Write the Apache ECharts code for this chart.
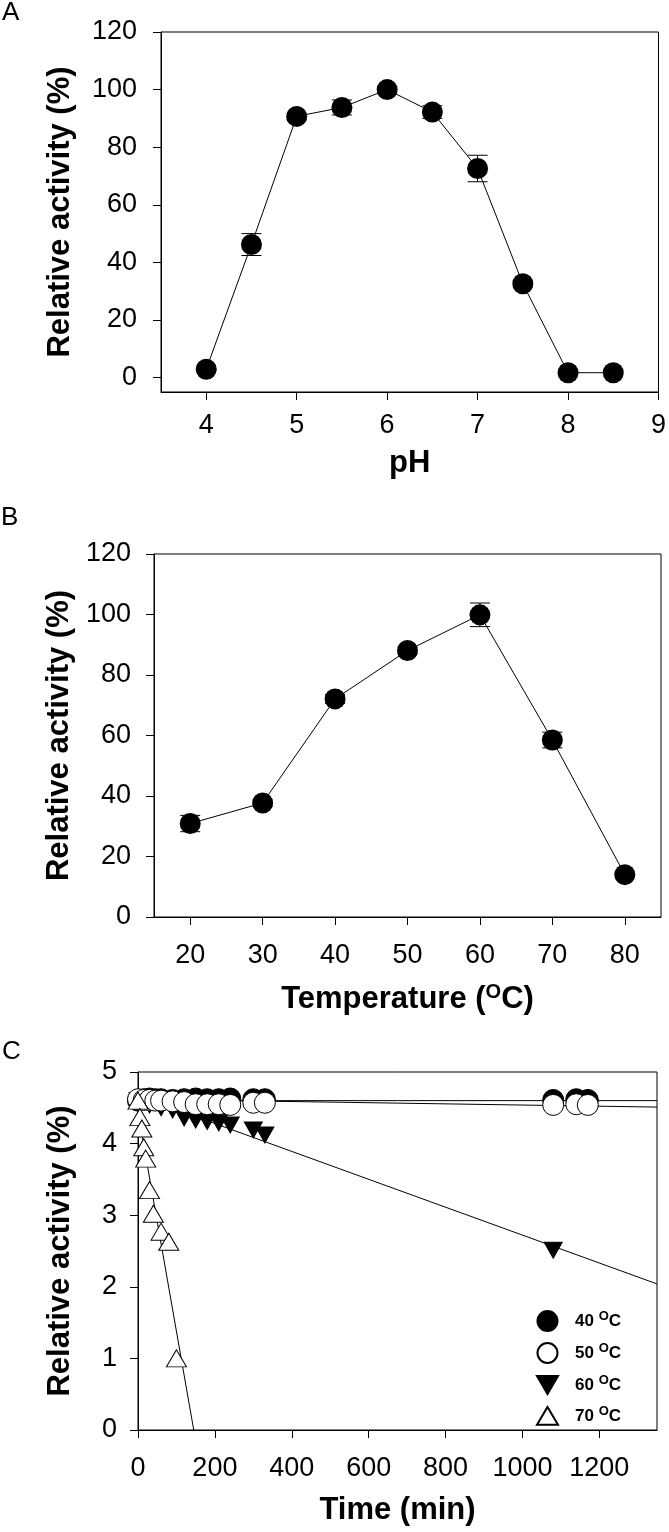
<!DOCTYPE html>
<html>
<head>
<meta charset="utf-8">
<script src="https://cdn.jsdelivr.net/npm/echarts@6/dist/echarts.min.js"></script>
<style>
  html, body { margin: 0; padding: 0; background: #fff; }
  #chart { width: 669px; height: 1532px; }
</style>
</head>
<body>
<div id="chart"></div>
<script>
// Panel A: pH profile
const phValues = [4, 4.5, 5, 5.5, 6, 6.5, 7, 7.5, 8, 8.5];
const phActivity = [2.9, 46.2, 90.7, 93.8, 100, 92.2, 72.6, 32.6, 1.7, 1.7];
const phError = [0.5, 3.8, 1.0, 2.6, 1.0, 2.2, 4.6, 1.0, 0.5, 0.5];
const phTicks = [4, 5, 6, 7, 8, 9];
const activityTicks = [0, 20, 40, 60, 80, 100, 120];

// Panel B: temperature profile
const tempValues = [20, 30, 40, 50, 60, 70, 80];
const tempActivity = [30.9, 37.7, 72.1, 88.1, 99.9, 58.5, 14.0];
const tempError = [2.7, 1.0, 1.5, 1.0, 3.9, 2.6, 0.5];
const tempTicks = [20, 30, 40, 50, 60, 70, 80];

// Panel C: thermal stability
const timeCircles = [0, 15, 30, 45, 60, 90, 120, 150, 180, 210, 240, 300, 330, 1080, 1140, 1170];
const act40 = [4.60, 4.62, 4.63, 4.62, 4.62, 4.61, 4.62, 4.63, 4.62, 4.62, 4.63, 4.62, 4.62, 4.61, 4.62, 4.61];
const act50 = [4.62, 4.61, 4.61, 4.60, 4.60, 4.59, 4.58, 4.55, 4.55, 4.55, 4.54, 4.57, 4.57, 4.54, 4.55, 4.54];
const time60 = [0, 30, 60, 90, 120, 150, 180, 210, 240, 300, 330, 1080];
const act60 = [4.60, 4.54, 4.50, 4.47, 4.36, 4.33, 4.31, 4.29, 4.26, 4.19, 4.12, 2.51];
const time70 = [0, 5, 10, 15, 20, 30, 40, 60, 80, 100];
const act70 = [4.60, 4.37, 4.21, 3.95, 3.79, 3.35, 3.02, 2.77, 2.63, 1.00];
const timeTicks = [0, 200, 400, 600, 800, 1000, 1200];

// fitted lines (start / end)
const fitTime = [0, 1350];
const fit40 = [4.60, 4.60];
const fit50 = [4.62, 4.51];
const fit60 = [4.67, 2.04];
const fitTime70 = [0, 145];
const fit70 = [4.44, 0];

const FONT = '"Liberation Sans", Arial, Helvetica, sans-serif';
const zip = (xs, ys) => xs.map((x, i) => [x, ys[i]]);
const zip3 = (xs, ys, es) => xs.map((x, i) => [x, ys[i], es[i]]);

const chart = echarts.init(document.getElementById('chart'), null, { renderer: 'canvas' });

// plain numbers, no thousands separator
const plain = v => String(v);

function valueAxis(gridIndex, min, max, extra) {
  return Object.assign({
    type: 'value',
    gridIndex,
    min,
    max,
    axisLine: { show: true, onZero: false, lineStyle: { color: '#000', width: 1 } },
    axisTick: { show: true, inside: false, length: 8, lineStyle: { color: '#000', width: 1 } },
    axisLabel: { color: '#000', fontSize: 27, fontFamily: FONT, formatter: plain },
    splitLine: { show: false },
    nameLocation: 'middle',
    nameTextStyle: { color: '#000', fontSize: 31, fontWeight: 'bold', fontFamily: FONT }
  }, extra);
}

function ticks(values) {
  return { show: true, length: 8, customValues: values, lineStyle: { color: '#000', width: 1 } };
}

function labels(values, margin) {
  const l = { color: '#000', fontSize: 27, fontFamily: FONT, margin, formatter: plain };
  if (values) l.customValues = values;
  return l;
}

function errorBars(gridIndex, data) {
  return {
    type: 'custom',
    xAxisIndex: gridIndex,
    yAxisIndex: gridIndex,
    z: 1,
    silent: true,
    data,
    renderItem(params, api) {
      const x = api.value(0), y = api.value(1), e = api.value(2);
      const top = api.coord([x, y + e]);
      const bot = api.coord([x, y - e]);
      const hw = 10;
      const style = { stroke: '#000', lineWidth: 1 };
      return {
        type: 'group',
        children: [
          { type: 'line', shape: { x1: top[0], y1: top[1], x2: bot[0], y2: bot[1] }, style },
          { type: 'line', shape: { x1: top[0] - hw, y1: top[1], x2: top[0] + hw, y2: top[1] }, style },
          { type: 'line', shape: { x1: bot[0] - hw, y1: bot[1], x2: bot[0] + hw, y2: bot[1] }, style }
        ]
      };
    }
  };
}

function fitLine(gridIndex, xs, ys) {
  return {
    type: 'line',
    xAxisIndex: gridIndex,
    yAxisIndex: gridIndex,
    data: zip(xs, ys),
    symbol: 'none',
    silent: true,
    z: 2,
    lineStyle: { color: '#000', width: 1 }
  };
}

const downTriangle = 'path://M0,0 L20,0 L10,17 Z';
const upTriangle = 'path://M10,0 L20,17 L0,17 Z';

const option = {
  animation: false,
  backgroundColor: '#fff',
  grid: [
    { left: 161, top: 32, width: 502, height: 360, show: true, borderColor: '#000', borderWidth: 1 },
    { left: 154, top: 554, width: 507, height: 363, show: true, borderColor: '#000', borderWidth: 1 },
    { left: 138, top: 1072, width: 519, height: 358, show: true, borderColor: '#000', borderWidth: 1 }
  ],
  xAxis: [
    valueAxis(0, 3.5, 9, {
      name: 'pH', nameGap: 56,
      axisTick: ticks(phTicks),
      axisLabel: labels(phTicks, 20)
    }),
    valueAxis(1, 15, 85, {
      name: '{t|Temperature (}{s|O}{t|C)}', nameGap: 65,
      nameTextStyle: {
        color: '#000', fontFamily: FONT,
        rich: {
          t: { fontSize: 31, fontWeight: 'bold', fontFamily: FONT, color: '#000', lineHeight: 34 },
          s: { fontSize: 20, fontWeight: 'bold', fontFamily: FONT, color: '#000', verticalAlign: 'top', lineHeight: 34 }
        }
      },
      axisTick: ticks(tempTicks),
      axisLabel: labels(tempTicks, 25)
    }),
    valueAxis(2, 0, 1350, {
      name: 'Time (min)', nameGap: 65,
      axisTick: ticks(timeTicks),
      axisLabel: labels(timeTicks, 25)
    })
  ],
  yAxis: [
    valueAxis(0, -5, 120, {
      name: 'Relative activity (%)', nameGap: 85,
      axisTick: ticks(activityTicks),
      axisLabel: labels(activityTicks, 24)
    }),
    valueAxis(1, 0, 120, {
      name: 'Relative activity (%)', nameGap: 78, interval: 20,
      axisLabel: labels(null, 23)
    }),
    valueAxis(2, 0, 5, {
      name: 'Relative activity (%)', nameGap: 62, interval: 1,
      axisLabel: labels(null, 21)
    })
  ],
  legend: {
    left: 531,
    top: 1305,
    orient: 'vertical',
    itemWidth: 21,
    itemHeight: 20,
    itemGap: 10,
    selectedMode: false,
    data: [
      { name: '40', icon: 'circle' },
      { name: '50', icon: 'circle' },
      { name: '60', icon: downTriangle },
      { name: '70', icon: upTriangle }
    ],
    formatter: name => `{n|${name} }{s|O}{n|C}`,
    textStyle: {
      color: '#000',
      rich: {
        n: { fontSize: 17, fontWeight: 'bold', fontFamily: FONT, color: '#000', lineHeight: 22 },
        s: { fontSize: 13, fontWeight: 'bold', fontFamily: FONT, color: '#000', lineHeight: 22, verticalAlign: 'top' }
      },
      padding: [0, 0, 0, 12]
    }
  },
  graphic: [
    { type: 'text', left: 2, top: 0, style: { text: 'A', fontSize: 26, fontFamily: FONT, fill: '#000' } },
    { type: 'text', left: 1, top: 505, style: { text: 'B', fontSize: 26, fontFamily: FONT, fill: '#000' } },
    { type: 'text', left: 2, top: 1039, style: { text: 'C', fontSize: 26, fontFamily: FONT, fill: '#000' } }
  ],
  series: [
    // Panel A
    errorBars(0, zip3(phValues, phActivity, phError)),
    {
      type: 'line', xAxisIndex: 0, yAxisIndex: 0, z: 3,
      data: zip(phValues, phActivity),
      symbol: 'circle', symbolSize: 21,
      itemStyle: { color: '#000' },
      lineStyle: { color: '#000', width: 1 }
    },
    // Panel B
    errorBars(1, zip3(tempValues, tempActivity, tempError)),
    {
      type: 'line', xAxisIndex: 1, yAxisIndex: 1, z: 3,
      data: zip(tempValues, tempActivity),
      symbol: 'circle', symbolSize: 21,
      itemStyle: { color: '#000' },
      lineStyle: { color: '#000', width: 1 }
    },
    // Panel C fitted lines
    fitLine(2, fitTime, fit40),
    fitLine(2, fitTime, fit50),
    fitLine(2, fitTime, fit60),
    fitLine(2, fitTime70, fit70),
    // Panel C markers
    {
      name: '60', type: 'scatter', xAxisIndex: 2, yAxisIndex: 2, z: 3,
      data: zip(time60, act60),
      symbol: downTriangle, symbolSize: [18, 16],
      itemStyle: { color: '#000', borderColor: '#000', borderWidth: 1, opacity: 1 }
    },
    {
      name: '40', type: 'scatter', xAxisIndex: 2, yAxisIndex: 2, z: 4,
      data: zip(timeCircles, act40),
      symbol: 'circle', symbolSize: 21,
      itemStyle: { color: '#000', borderColor: '#000', borderWidth: 1, opacity: 1 }
    },
    {
      name: '50', type: 'scatter', xAxisIndex: 2, yAxisIndex: 2, z: 5,
      data: zip(timeCircles, act50),
      symbol: 'circle', symbolSize: 21,
      itemStyle: { color: '#fff', borderColor: '#000', borderWidth: 1, opacity: 1 }
    },
    {
      name: '70', type: 'scatter', xAxisIndex: 2, yAxisIndex: 2, z: 6,
      data: zip(time70, act70),
      symbol: upTriangle, symbolSize: [20, 17],
      itemStyle: { color: '#fff', borderColor: '#000', borderWidth: 1, opacity: 1 }
    }
  ]
};

chart.setOption(option);
</script>
</body>
</html>
